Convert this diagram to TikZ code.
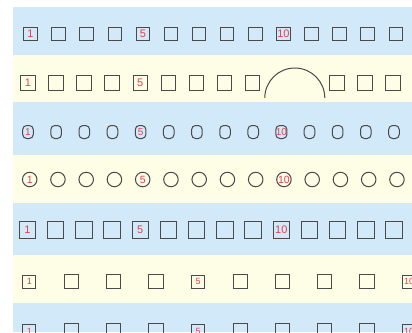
\documentclass[tikz,border=0pt]{standalone}
\usepackage{fontspec}
\setmainfont{Liberation Sans}
\definecolor{bandblue}{HTML}{D2E9FA}
\definecolor{bandyellow}{HTML}{FEFDE6}
\definecolor{strokegray}{HTML}{4A4A4A}
\definecolor{labred}{HTML}{E8404A}
\newcommand\lbl[1]{\ifnum#1=1 1\else\ifnum#1=5 5\else\ifnum#1=10 10\fi\fi\fi}
\tikzset{
  item/.style={draw=strokegray, line width=1pt, inner sep=0pt, text=labred,
    font=\fontsize{11}{12}\selectfont},
  sqA/.style={item, rectangle, minimum width=13.5pt, minimum height=13.5pt},
  sqB/.style={item, rectangle, minimum width=14.5pt, minimum height=14.5pt},
  pill/.style={item, rectangle, rounded corners=4pt, minimum width=10.6pt, minimum height=13pt, font=\fontsize{10}{11}\selectfont},
  circ/.style={item, circle, minimum size=14.5pt, font=\fontsize{10.5}{11}\selectfont},
  sqC/.style={item, rectangle, minimum width=16.5pt, minimum height=16.5pt},
  sqD/.style={item, rectangle, minimum width=14.5pt, minimum height=14.5pt, font=\fontsize{9}{10}\selectfont},
  sqDl/.style={item, rectangle, minimum width=13.3pt, minimum height=13.3pt, font=\fontsize{9}{10}\selectfont},
}
\begin{document}
\begin{tikzpicture}[x=1pt,y=-1pt]
\useasboundingbox (0,0) rectangle (412,332);
\fill[white] (0,0) rectangle (412,332);
% bands
\fill[bandblue]   (13,7)   rectangle (412,55);
\fill[bandyellow] (13,55)  rectangle (412,102);
\fill[bandblue]   (13,102) rectangle (412,155);
\fill[bandyellow] (13,155) rectangle (412,203);
\fill[bandblue]   (13,203) rectangle (412,255);
\fill[bandyellow] (13,255) rectangle (412,303);
\fill[bandblue]   (13,303) rectangle (412,332);
% row 1
\foreach \i in {1,...,14} {
  \pgfmathsetmacro\xx{30.5+28.1*(\i-1)}
  \node[sqA] (ra-\i) at (\xx,34) {\lbl{\i}};
}
% row 2
\foreach \i in {1,...,9,12,13,14} {
  \pgfmathsetmacro\xx{28+28.07*(\i-1)}
  \node[sqB] (rb-\i) at (\xx,83) {\lbl{\i}};
}
\coordinate (arcc) at (294.8,98);
\draw[strokegray, line width=1pt] ([xshift=-30pt]arcc) arc[start angle=180, end angle=0, radius=30pt];
% row 3
\foreach \i in {1,...,14} {
  \pgfmathsetmacro\xx{28+28.15*(\i-1)}
  \node[pill] (rc-\i) at (\xx,132) {\lbl{\i}};
}
% row 4
\foreach \i in {1,...,14} {
  \pgfmathsetmacro\xx{29.7+28.25*(\i-1)}
  \node[circ] (rd-\i) at (\xx,179.5) {\lbl{\i}};
}
% row 5
\foreach \i in {1,...,14} {
  \pgfmathsetmacro\xx{27.5+28.2*(\i-1)}
  \node[sqC] (re-\i) at (\xx,230) {\lbl{\i}};
}
% rows 6 and 7
\foreach \i in {1,...,10} {
  \pgfmathsetmacro\xx{29.3+42.2*(\i-1)}
  \ifnum\i=1 \def\st{sqDl}\else\ifnum\i=5 \def\st{sqDl}\else\ifnum\i=10 \def\st{sqDl}\else\def\st{sqD}\fi\fi\fi
  \node[\st] (rf-\i) at (\xx,281.7) {\lbl{\i}};
  \node[\st] (rg-\i) at (\xx,331) {\lbl{\i}};
}
\end{tikzpicture}
\end{document}
